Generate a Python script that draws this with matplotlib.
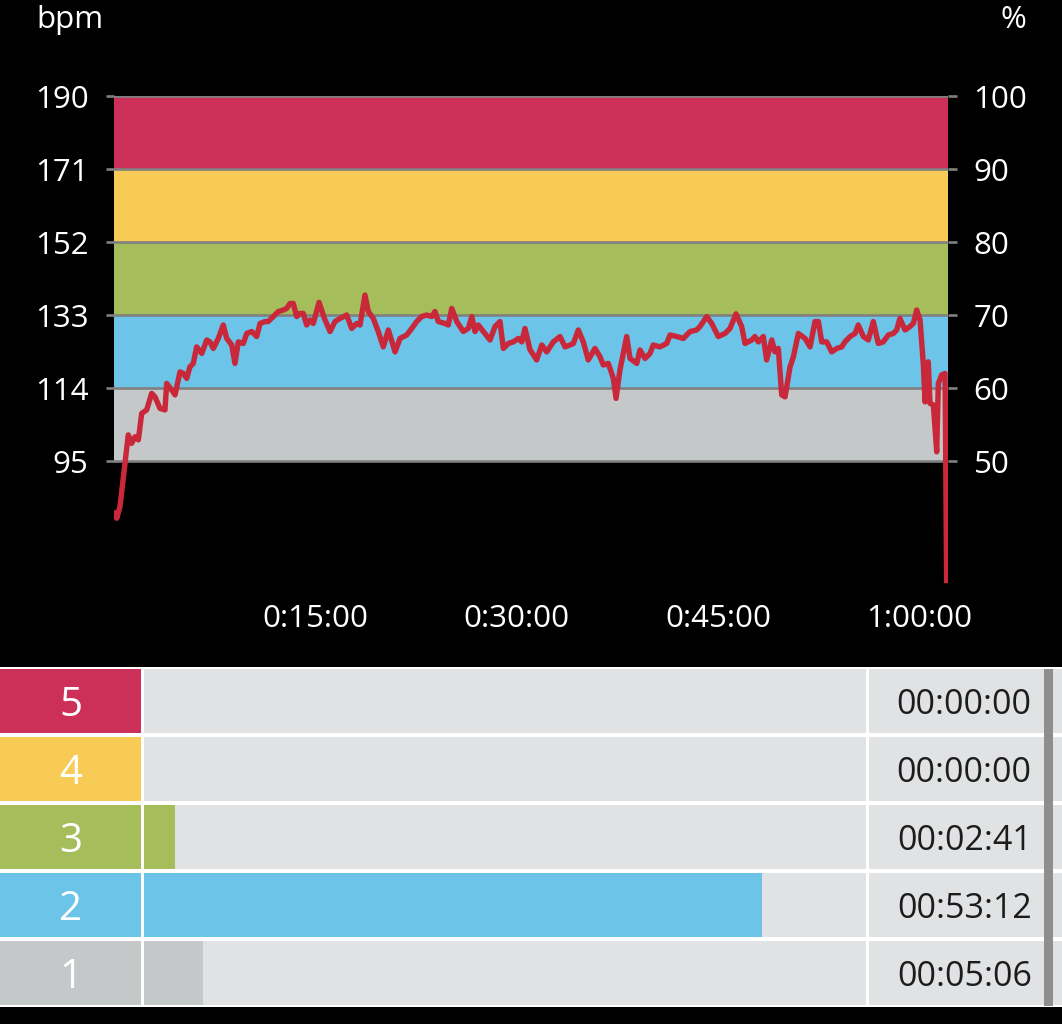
import matplotlib.pyplot as plt

plt.rcParams['font.family'] = ['Open Sans', 'DejaVu Sans']

# heart rate trace (minutes, bpm)
minutes = [0.11, 0.24, 0.48, 1.10, 1.35, 1.60, 1.85, 2.10, 2.47, 2.84,
           3.09, 3.46, 3.83, 3.96, 4.33, 4.58, 4.95, 5.20, 5.45, 5.69,
           5.94, 6.19, 6.57, 6.94, 7.18, 7.43, 7.80, 8.17, 8.43, 8.80,
           9.04, 9.29, 9.66, 9.92, 10.29, 10.66, 10.91, 11.28, 11.52, 11.90,
           12.27, 12.64, 12.89, 13.14, 13.38, 13.64, 13.88, 14.13, 14.38, 14.63,
           14.87, 15.30, 15.70, 16.12, 16.49, 16.86, 17.36, 17.73, 18.10, 18.35,
           18.72, 18.97, 19.34, 19.71, 20.08, 20.46, 20.96, 21.33, 21.83, 22.20,
           22.57, 22.94, 23.32, 23.69, 23.93, 24.18, 24.68, 24.92, 25.18, 25.55,
           26.04, 26.41, 26.67, 26.91, 27.16, 27.53, 28.03, 28.40, 28.77, 29.02,
           29.39, 29.76, 30.13, 30.39, 30.63, 31.00, 31.50, 31.88, 32.25, 32.74,
           33.24, 33.61, 33.98, 34.23, 34.60, 34.97, 35.34, 35.84, 36.22, 36.46,
           36.83, 37.21, 37.41, 37.70, 38.20, 38.45, 38.95, 39.19, 39.57, 39.94,
           40.18, 40.68, 41.18, 41.43, 41.93, 42.42, 42.92, 43.41, 43.66, 44.16,
           44.53, 45.02, 45.52, 45.89, 46.34, 46.76, 47.01, 47.51, 47.75, 48.00,
           48.37, 48.62, 49.00, 49.24, 49.49, 49.74, 49.99, 50.36, 50.61, 50.98,
           51.48, 51.85, 52.22, 52.47, 52.72, 53.09, 53.46, 53.84, 54.21, 54.45,
           54.83, 55.20, 55.44, 55.82, 56.19, 56.56, 56.93, 57.30, 57.68, 58.05,
           58.30, 58.54, 58.92, 59.29, 59.54, 59.79, 60.04, 60.28, 60.41, 60.65,
           60.78, 61.03, 61.28, 61.40, 61.65, 61.90, 62.02]
bpm = [82.2, 80.1, 83.1, 101.8, 99.6, 101.3, 100.5, 107.4, 108.3, 112.6,
       111.7, 108.7, 108.3, 115.2, 113.5, 112.2, 118.2, 117.8, 116.5, 119.5,
       120.4, 124.7, 123.0, 126.5, 126.0, 124.3, 126.9, 130.4, 126.9, 125.2,
       120.4, 126.0, 125.6, 128.2, 128.7, 127.4, 130.8, 131.3, 131.3, 132.6,
       133.9, 134.3, 134.7, 136.0, 136.0, 132.6, 133.4, 133.4, 130.4, 131.7,
       130.8, 136.3, 132.1, 128.7, 131.3, 132.1, 133.0, 129.5, 130.8, 130.4,
       138.2, 133.9, 132.1, 128.7, 124.7, 129.1, 123.4, 126.9, 127.8, 129.5,
       131.3, 132.6, 133.0, 132.6, 133.9, 131.3, 130.8, 130.4, 134.7, 131.3,
       128.7, 129.5, 132.6, 128.7, 130.4, 128.7, 126.5, 130.0, 131.3, 124.3,
       125.6, 126.0, 126.9, 126.0, 129.5, 124.0, 121.3, 125.2, 123.4, 126.0,
       127.4, 124.7, 125.2, 125.6, 129.1, 126.0, 121.3, 124.3, 122.1, 120.0,
       120.4, 116.5, 111.3, 118.7, 127.4, 121.7, 120.4, 123.9, 121.7, 123.0,
       125.2, 124.7, 125.6, 127.8, 127.4, 126.9, 128.7, 129.1, 130.0, 132.6,
       130.8, 127.4, 128.2, 129.5, 133.3, 130.0, 125.6, 126.5, 127.4, 126.0,
       127.4, 121.3, 126.5, 123.4, 124.3, 112.2, 111.7, 119.5, 122.1, 128.2,
       126.9, 124.7, 131.3, 131.3, 126.0, 126.0, 123.4, 124.3, 124.7, 126.0,
       127.4, 128.2, 130.4, 127.4, 126.5, 131.3, 125.6, 126.0, 127.8, 128.2,
       129.1, 132.1, 129.1, 130.0, 130.8, 134.3, 131.7, 120.4, 110.4, 120.8,
       110.0, 109.6, 97.4, 115.2, 117.4, 117.8, 63.2]

# zones, bottom to top
zone_edges = [95, 114, 133, 152, 171, 190]
zone_names = ['1', '2', '3', '4', '5']
zone_colors = ['#c4c8c8', '#6cc4e8', '#a5bd5b', '#f7cb55', '#cc3058']
zone_seconds = [306, 3192, 161, 0, 0]
zone_times = ['00:05:06', '00:53:12', '00:02:41', '00:00:00', '00:00:00']
total_seconds = 3729

pct_ticks = [50, 60, 70, 80, 90, 100]
x_ticks = [15, 30, 45, 60]
x_labels = ['0:15:00', '0:30:00', '0:45:00', '1:00:00']

W, H = 1062, 1024
GRID = '#808080'
CELL = '#e1e2e4'


def px(x0, y0, x1, y1):
    return [x0 / W, 1 - y1 / H, (x1 - x0) / W, (y1 - y0) / H]


fig = plt.figure(figsize=(W / 100, H / 100), dpi=100, facecolor='black')

# ---- heart rate chart ----
ymin, ymax = 60, 190
ax = fig.add_axes(px(113.5, 96, 948, 595.5), facecolor='black')
ax.set_xlim(0, 62.12)
ax.set_ylim(ymin, ymax)
for lo, hi, c in zip(zone_edges[:-1], zone_edges[1:], zone_colors):
    ax.axhspan(lo, hi, color=c, lw=0, zorder=1)
for e in zone_edges:
    ax.axhline(e, color=GRID, lw=1.9, zorder=2)
ax.plot(minutes, bpm, color='#c9283a', lw=3.9, zorder=3,
        solid_joinstyle='round', solid_capstyle='butt')

for s in ax.spines.values():
    s.set_visible(False)
ax.set_yticks(zone_edges)
ax.tick_params(axis='y', length=6, width=1.9, color=GRID, labelcolor='white',
               labelsize=22.5, pad=12)
ax.set_xticks(x_ticks)
ax.set_xticklabels(x_labels)
ax.tick_params(axis='x', length=0, labelcolor='white', labelsize=22.5, pad=6)

ax2 = ax.twinx()
ax2.set_ylim(ymin / 1.9, ymax / 1.9)
ax2.set_yticks(pct_ticks)
for s in ax2.spines.values():
    s.set_visible(False)
ax2.tick_params(axis='y', length=6.5, width=1.9, color=GRID, labelcolor='white',
                labelsize=22.5, pad=12)

fig.text(36 / W, 1 - 20 / H, 'bpm', color='white', fontsize=22.5, va='center', ha='left')
fig.text(1026 / W, 1 - 20 / H, '%', color='white', fontsize=22.5, va='center', ha='right')

# ---- zone table ----
top, bottom = 667, 1007
bg = fig.add_axes(px(0, top, W, bottom), facecolor='white')
bg.set_xticks([])
bg.set_yticks([])
for s in bg.spines.values():
    s.set_visible(False)

rows = list(range(len(zone_names)))
bh = 0.955


def table_axes(x0, x1):
    a = fig.add_axes(px(x0, top, x1, bottom), facecolor='none')
    a.set_ylim(-0.5, len(rows) - 0.5)
    a.axis('off')
    return a


lab = table_axes(0, 141)
lab.set_xlim(0, 1)
lab.barh(rows, 1, height=bh, color=zone_colors, lw=0)
for r, n in zip(rows, zone_names):
    lab.text(0.5, r, n, color='white', fontsize=29, ha='center', va='center_baseline')

bars = table_axes(143.5, 866)
bars.set_xlim(0, total_seconds)
bars.barh(rows, total_seconds, height=bh, color=CELL, lw=0)
bars.barh(rows, zone_seconds, height=bh, color=zone_colors, lw=0)

times = table_axes(868.5, 1044)
times.set_xlim(0, 1)
times.barh(rows, 1, height=bh, color=CELL, lw=0)
for r, t in zip(rows, zone_times):
    times.text(0.93, r, t, color='#1c1c1c', fontsize=24.5, ha='right', va='center_baseline')

edge = table_axes(1053, W)
edge.set_xlim(0, 1)
edge.barh(rows, 1, height=bh, color=CELL, lw=0)

scroll = fig.add_axes(px(1044, top + 2, 1053, bottom - 1), facecolor='#8e8e8e')
scroll.set_xticks([])
scroll.set_yticks([])
for s in scroll.spines.values():
    s.set_visible(False)

fig.savefig('out.png', dpi=100, facecolor='black')
